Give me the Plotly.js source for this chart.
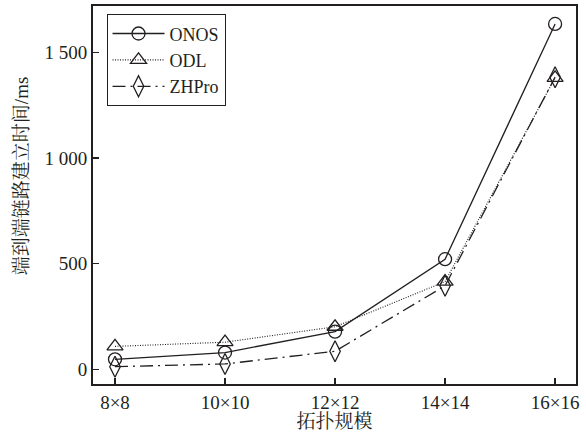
<!DOCTYPE html>
<html>
<head>
<meta charset="utf-8">
<script src="https://cdn.plot.ly/plotly-3.0.1.min.js"></script>
<style>html,body{margin:0;padding:0;background:#fff;}#chart{width:586px;height:432px;}</style>
</head>
<body>
<div id="chart"></div>
<script>
var categories = ['8×8', '10×10', '12×12', '14×14', '16×16'];
var onos = [47, 79, 178, 521, 1635];
var odl = [108, 128, 201, 415, 1380];
var zhpro = [12, 25, 85, 395, 1383];
var yTickVals = [0, 500, 1000, 1500];
var yTickText = ['0', '500', '1 000', '1 500'];
var yTitle = '端到端链路建立时间/ms';
var xTitle = '拓扑规模';

var FONT = '"Liberation Serif", "Times New Roman", "Noto Serif CJK SC", "Noto Sans CJK SC", serif';
var INK = '#231f20';
var xIdx = categories.map(function (c, i) { return i; });

var traces = [
  {x: xIdx, y: onos, name: 'ONOS', mode: 'lines+markers',
   line: {color: INK, width: 1.3, dash: 'solid'},
   marker: {symbol: 'circle-open', size: 13, color: INK, line: {width: 1.3, color: INK}}},
  {x: xIdx, y: odl, name: 'ODL', mode: 'lines+markers',
   line: {color: INK, width: 1.1, dash: '1px,1.5px'},
   marker: {symbol: 'triangle-up-open', size: 14, color: INK, line: {width: 1.3, color: INK}}},
  {x: xIdx, y: zhpro, name: 'ZHPro', mode: 'lines+markers',
   line: {color: INK, width: 1.3, dash: '13px,5px,2px,5px'},
   marker: {symbol: 'diamond-tall-open', size: 15, color: INK, line: {width: 1.3, color: INK}}}
];

var layout = {
  width: 586, height: 432,
  margin: {l: 93, r: 10, t: 6, b: 48},
  paper_bgcolor: '#fff', plot_bgcolor: '#fff',
  font: {family: FONT, size: 19, color: INK},
  showlegend: true,
  legend: {x: 0.028, y: 0.978, xanchor: 'left', yanchor: 'top',
           bordercolor: INK, borderwidth: 1, bgcolor: '#fff',
           font: {family: FONT, size: 18, color: INK},
           itemwidth: 52, tracegroupgap: 0},
  xaxis: {
    range: [-0.2, 4.19], tickmode: 'array', tickvals: xIdx, ticktext: categories,
    ticks: 'inside', ticklen: 6, tickwidth: 1.2, tickcolor: INK,
    showline: true, linecolor: INK, linewidth: 2, mirror: true,
    showgrid: false, zeroline: false,
    tickfont: {family: FONT, size: 19, color: INK},
    title: {text: xTitle, standoff: 0, font: {family: FONT, size: 19, color: INK}}
  },
  yaxis: {
    range: [-70, 1720], tickmode: 'array', tickvals: yTickVals, ticktext: yTickText,
    ticks: 'inside', ticklen: 6, tickwidth: 1.2, tickcolor: INK,
    showline: true, linecolor: INK, linewidth: 2, mirror: true,
    showgrid: false, zeroline: false,
    tickfont: {family: FONT, size: 19, color: INK}
  },
  annotations: [{
    text: yTitle, textangle: -90, showarrow: false,
    xref: 'paper', yref: 'paper', x: -0.149, y: 0.55,
    xanchor: 'center', yanchor: 'middle',
    font: {family: FONT, size: 19, color: INK}
  }]
};

Plotly.newPlot('chart', traces, layout, {displayModeBar: false, staticPlot: true});
</script>
</body>
</html>
